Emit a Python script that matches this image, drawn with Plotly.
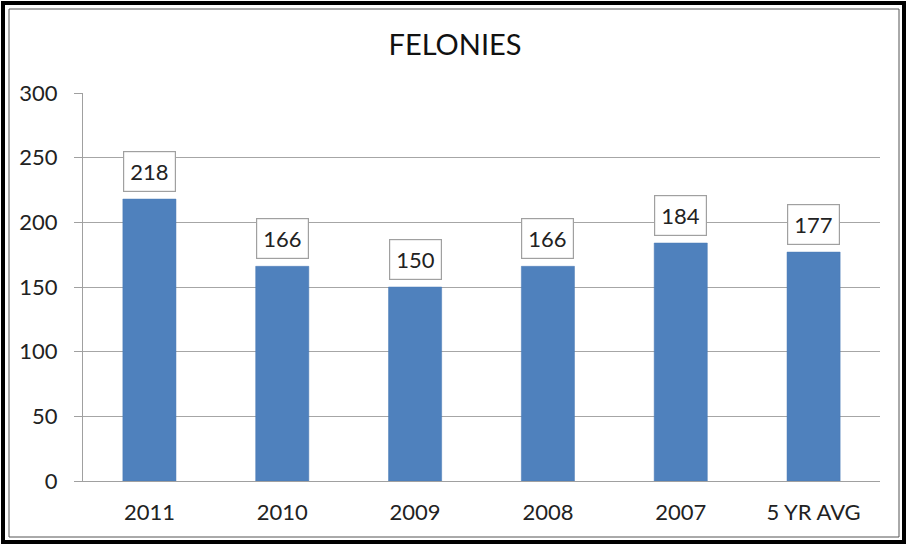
import plotly.graph_objects as go

categories = ["2011", "2010", "2009", "2008", "2007", "5 YR AVG"]
values = [218, 166, 150, 166, 184, 177]
y_ticks = [0, 50, 100, 150, 200, 250, 300]

W, H = 907, 545
L, R, T, B = 83, 27, 93, 64
pw, ph = W - L - R, H - T - B

def px(x):
    return (x - L) / pw

def py(y):
    return (H - B - y) / ph

FONT = "Lato, 'Open Sans', sans-serif"
pos = list(range(len(categories)))

fig = go.Figure()
fig.add_trace(go.Bar(
    x=pos, y=values,
    width=0.4,
    marker=dict(color="#4F81BD", line=dict(color="#4A7AB5", width=0.5)),
    showlegend=False,
))

for p, v in zip(pos, values):
    fig.add_annotation(
        x=p, y=v, text=str(v), showarrow=False,
        yanchor="bottom", yshift=7,
        font=dict(family=FONT, size=22, color="#222222"),
        bgcolor="white", bordercolor="#A0A0A0", borderwidth=1.2, borderpad=6,
    )

# frame
fig.add_shape(type="rect", xref="paper", yref="paper",
              x0=px(3), x1=px(904), y0=py(3), y1=py(542),
              line=dict(color="black", width=4), layer="above")
fig.add_shape(type="rect", xref="paper", yref="paper",
              x0=px(9), x1=px(899), y0=py(9), y1=py(537),
              line=dict(color="#555555", width=1), layer="above")

fig.update_layout(
    width=W, height=H,
    margin=dict(l=L, r=R, t=T, b=B),
    paper_bgcolor="white", plot_bgcolor="white",
    title=dict(text="FELONIES", x=455 / W, xref="container", xanchor="center",
               y=1 - 45 / H, yanchor="middle",
               font=dict(family=FONT, size=29, color="#111111")),
    xaxis=dict(range=[-0.5, len(categories) - 0.5], tickvals=pos, ticktext=categories,
               showgrid=False, showline=True, linecolor="#A0A0A0", linewidth=1,
               ticks="", zeroline=False,
               tickfont=dict(family=FONT, size=22, color="#222222"),
               ticklabelstandoff=12),
    yaxis=dict(range=[0, 300], tickvals=y_ticks, showgrid=True, gridcolor="#A6A6A6",
               gridwidth=1, showline=True, linecolor="#A0A0A0", linewidth=1,
               ticks="outside", ticklen=8, tickcolor="#A0A0A0",
               tickfont=dict(family=FONT, size=22, color="#222222"),
               zeroline=False, ticklabelstandoff=12),
)

fig.write_html("out.html", config={"displayModeBar": False},
               post_script="document.body.style.margin='0';document.body.style.overflow='hidden';")
